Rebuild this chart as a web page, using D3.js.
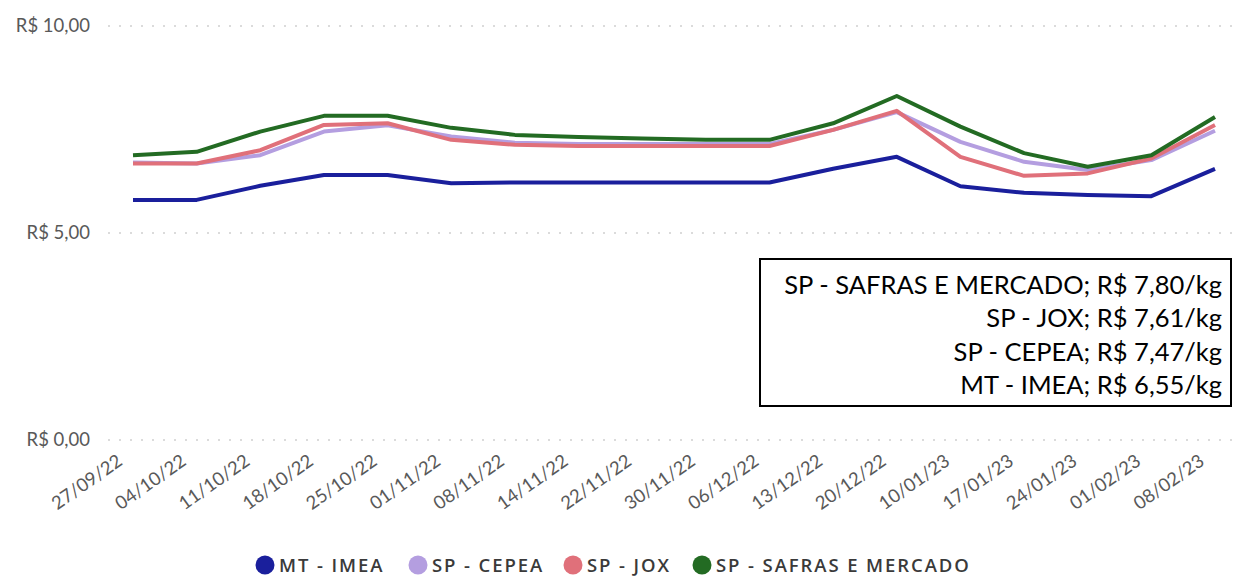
<!DOCTYPE html>
<html>
<head>
<meta charset="utf-8">
<script src="https://cdn.jsdelivr.net/npm/d3@7"></script>
<style>
  html, body { margin: 0; padding: 0; background: #fff; }
  svg { display: block; }
</style>
</head>
<body>
<svg id="chart" width="1233" height="578"></svg>
<script>
const categories = ["27/09/22","04/10/22","11/10/22","18/10/22","25/10/22","01/11/22","08/11/22","14/11/22","22/11/22","30/11/22","06/12/22","13/12/22","20/12/22","10/01/23","17/01/23","24/01/23","01/02/23","08/02/23"];

const mtImea   = [5.80,5.80,6.14,6.40,6.40,6.20,6.22,6.22,6.22,6.22,6.22,6.55,6.84,6.13,5.97,5.92,5.89,6.55];
const spCepea  = [6.70,6.68,6.88,7.45,7.60,7.33,7.18,7.15,7.15,7.15,7.15,7.49,7.92,7.20,6.72,6.52,6.76,7.47];
const spJox    = [6.68,6.68,7.00,7.61,7.65,7.25,7.13,7.10,7.10,7.10,7.10,7.49,7.95,6.84,6.38,6.44,6.80,7.61];
const spSafras = [6.88,6.96,7.45,7.83,7.83,7.54,7.37,7.32,7.28,7.25,7.25,7.65,8.31,7.57,6.93,6.60,6.88,7.80];

const seriesNames = ["MT - IMEA","SP - CEPEA","SP - JOX","SP - SAFRAS E MERCADO"];
const seriesColors = ["#1a1f9c","#b49ee0","#e0707a","#236b23"];
const yTicks = [0,5,10];
const yTickLabels = ["R$ 0,00","R$ 5,00","R$ 10,00"];
const boxLines = ["SP - SAFRAS E MERCADO; R$ 7,80/kg","SP - JOX; R$ 7,61/kg","SP - CEPEA; R$ 7,47/kg","MT - IMEA; R$ 6,55/kg"];

const seriesValues = [mtImea, spCepea, spJox, spSafras];

const svg = d3.select("#chart");
const font = "Lato, 'Open Sans', sans-serif";

const x = d3.scalePoint().domain(categories).range([133, 1215]);
const y = d3.scaleLinear().domain([0, 10]).range([440, 26]);

// gridlines
svg.append("g").selectAll("line").data(yTicks).join("line")
  .attr("x1", 108).attr("x2", 1232)
  .attr("y1", d => y(d)).attr("y2", d => y(d))
  .attr("stroke", "#d0d0d0").attr("stroke-width", 1.5)
  .attr("stroke-dasharray", "2,9");

// y labels
svg.append("g").selectAll("text").data(yTicks).join("text")
  .attr("x", 90).attr("y", d => y(d)).attr("dy", "0.35em")
  .attr("text-anchor", "end")
  .attr("font-family", font).attr("font-size", 18.5)
  .attr("fill", "#595959")
  .text((d, i) => yTickLabels[i]);

// x labels
svg.append("g").selectAll("text").data(categories).join("text")
  .attr("transform", d => `translate(${x(d) - 17},${453}) rotate(-35)`)
  .attr("text-anchor", "end").attr("dy", "0.72em")
  .attr("font-family", font).attr("font-size", 18.5)
  .attr("fill", "#595959")
  .text(d => d);

// lines
const line = d3.line().x((d, i) => x(categories[i])).y(d => y(d));
svg.append("g").selectAll("path").data(seriesValues).join("path")
  .attr("d", d => line(d))
  .attr("fill", "none")
  .attr("stroke", (d, i) => seriesColors[i])
  .attr("stroke-width", 4)
  .attr("stroke-linejoin", "round");

// annotation box
const box = svg.append("g");
box.append("rect").attr("x", 760).attr("y", 259).attr("width", 471).attr("height", 147)
  .attr("fill", "#fff").attr("stroke", "#000").attr("stroke-width", 2);
box.selectAll("text").data(boxLines).join("text")
  .attr("x", 1222).attr("y", (d, i) => 285 + i * 33.5).attr("dy", "0.35em")
  .attr("text-anchor", "end")
  .attr("font-family", font).attr("font-size", 25.5)
  .attr("fill", "#000")
  .text(d => d);

// bottom legend
const legendX = [265, 418, 573, 702];
const lg = svg.append("g").selectAll("g").data(seriesNames).join("g")
  .attr("transform", (d, i) => `translate(${legendX[i]},565)`);
lg.append("circle").attr("r", 9.5).attr("fill", (d, i) => seriesColors[i]);
lg.append("text").attr("x", 14).attr("dy", "0.36em")
  .attr("font-family", "'Open Sans', sans-serif").attr("font-size", 18.5).attr("font-weight", 600)
  .attr("letter-spacing", 1.9)
  .attr("fill", "#3a3a3a")
  .text(d => d);
</script>
</body>
</html>
